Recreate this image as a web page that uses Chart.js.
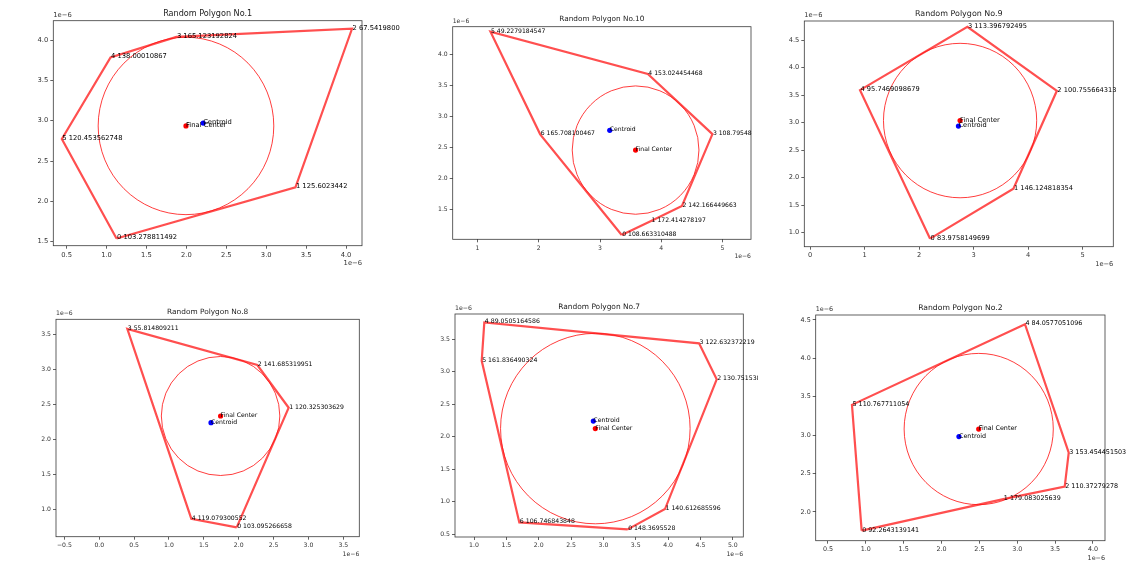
<!DOCTYPE html>
<html>
<head>
<meta charset="utf-8">
<script src="https://cdn.jsdelivr.net/npm/chart.js@4.4.0/dist/chart.umd.min.js"></script>
<style>
html, body { margin: 0; padding: 0; background: #fff; }
#wrap { position: relative; width: 1131px; height: 565px; overflow: hidden; }
.panel { position: absolute; }
</style>
</head>
<body>
<div id="wrap"></div>
<script>
// all coordinates are in units of 1e-6 (the axes offset text)

// Random Polygon No.1
var p1Title = 'Random Polygon No.1';
var p1X = [1.125, 3.366, 4.075, 1.875, 1.05, 0.44];
var p1Y = [1.54, 2.174, 4.14, 4.04, 3.785, 2.773];
var p1Vals = ['103.278811492', '125.6023442', '67.5419800', '165.123192824', '138.00010867', '120.453562748'];
var p1Centroid = [2.21, 2.97];
var p1Center = [1.995, 2.935];
var p1Radius = 1.10;
var p1TicksX = [0.5, 1.0, 1.5, 2.0, 2.5, 3.0, 3.5, 4.0];
var p1TicksY = [1.5, 2.0, 2.5, 3.0, 3.5, 4.0];
var p1RangeX = [0.333, 4.2];
var p1RangeY = [1.45, 4.24];

// Random Polygon No.10
var p2Title = 'Random Polygon No.10';
var p2X = [3.354, 3.834, 4.338, 4.836, 3.781, 1.211, 2.023];
var p2Y = [1.092, 1.318, 1.56, 2.72, 3.689, 4.371, 2.716];
var p2Vals = ['108.663310488', '172.414278197', '142.166449663', '108.79548', '153.024454468', '49.2279184547', '165.708100467'];
var p2Centroid = [3.159, 2.78];
var p2Center = [3.581, 2.462];
var p2Radius = 1.035;
var p2TicksX = [1, 2, 3, 4, 5];
var p2TicksY = [1.5, 2.0, 2.5, 3.0, 3.5, 4.0];
var p2RangeX = [0.594, 5.466];
var p2RangeY = [1.023, 4.452];

// Random Polygon No.9
var p3Title = 'Random Polygon No.9';
var p3X = [2.202, 3.73, 4.527, 2.886, 0.917];
var p3Y = [0.891, 1.8, 3.582, 4.745, 3.594];
var p3Vals = ['83.9758149699', '146.124818354', '100.755664313', '113.396792495', '95.7469098679'];
var p3Centroid = [2.722, 2.94];
var p3Center = [2.752, 3.04];
var p3Radius = 1.405;
var p3TicksX = [0, 1, 2, 3, 4, 5];
var p3TicksY = [1.0, 1.5, 2.0, 2.5, 3.0, 3.5, 4.0, 4.5];
var p3RangeX = [-0.105, 5.562];
var p3RangeY = [0.745, 4.851];

// Random Polygon No.8
var p4Title = 'Random Polygon No.8';
var p4X = [1.971, 2.717, 2.267, 0.402, 1.32];
var p4Y = [0.743, 2.451, 3.061, 3.576, 0.866];
var p4Vals = ['103.095266658', '120.325303629', '141.685319951', '55.814809211', '119.079300552'];
var p4Centroid = [1.603, 2.237];
var p4Center = [1.74, 2.333];
var p4Radius = 0.85;
var p4TicksX = [-0.5, 0.0, 0.5, 1.0, 1.5, 2.0, 2.5, 3.0, 3.5];
var p4TicksY = [1.0, 1.5, 2.0, 2.5, 3.0, 3.5];
var p4RangeX = [-0.621, 3.73];
var p4RangeY = [0.609, 3.714];

// Random Polygon No.7
var p5Title = 'Random Polygon No.7';
var p5X = [3.375, 3.952, 4.751, 4.478, 1.159, 1.119, 1.7];
var p5Y = [0.575, 0.888, 2.883, 3.437, 3.76, 3.169, 0.683];
var p5Vals = ['148.3695528', '140.612685596', '130.751538754', '122.632372219', '89.0505164586', '161.836490324', '106.746843848'];
var p5Centroid = [2.844, 2.241];
var p5Center = [2.875, 2.126];
var p5Radius = 1.465;
var p5TicksX = [1.0, 1.5, 2.0, 2.5, 3.0, 3.5, 4.0, 4.5, 5.0];
var p5TicksY = [0.5, 1.0, 1.5, 2.0, 2.5, 3.0, 3.5];
var p5RangeX = [0.706, 5.162];
var p5RangeY = [0.458, 3.889];

// Random Polygon No.2
var p6Title = 'Random Polygon No.2';
var p6X = [0.945, 2.816, 3.627, 3.68, 3.102, 0.817];
var p6Y = [1.758, 2.167, 2.331, 2.773, 4.445, 3.395];
var p6Vals = ['92.2643139141', '179.083025639', '110.37279278', '153.454451503', '84.0577051096', '110.767711054'];
var p6Centroid = [2.23, 2.982];
var p6Center = [2.491, 3.08];
var p6Radius = 0.985;
var p6TicksX = [0.5, 1.0, 1.5, 2.0, 2.5, 3.0, 3.5, 4.0];
var p6TicksY = [2.0, 2.5, 3.0, 3.5, 4.0, 4.5];
var p6RangeX = [0.338, 4.159];
var p6RangeY = [1.626, 4.565];

var offsetText = '1e\u22126';

var polygons = [
    {title: p1Title, xs: p1X, ys: p1Y, vals: p1Vals, centroid: p1Centroid, center: p1Center, r: p1Radius, tx: p1TicksX, ty: p1TicksY, rx: p1RangeX, ry: p1RangeY},
    {title: p2Title, xs: p2X, ys: p2Y, vals: p2Vals, centroid: p2Centroid, center: p2Center, r: p2Radius, tx: p2TicksX, ty: p2TicksY, rx: p2RangeX, ry: p2RangeY},
    {title: p3Title, xs: p3X, ys: p3Y, vals: p3Vals, centroid: p3Centroid, center: p3Center, r: p3Radius, tx: p3TicksX, ty: p3TicksY, rx: p3RangeX, ry: p3RangeY},
    {title: p4Title, xs: p4X, ys: p4Y, vals: p4Vals, centroid: p4Centroid, center: p4Center, r: p4Radius, tx: p4TicksX, ty: p4TicksY, rx: p4RangeX, ry: p4RangeY},
    {title: p5Title, xs: p5X, ys: p5Y, vals: p5Vals, centroid: p5Centroid, center: p5Center, r: p5Radius, tx: p5TicksX, ty: p5TicksY, rx: p5RangeX, ry: p5RangeY},
    {title: p6Title, xs: p6X, ys: p6Y, vals: p6Vals, centroid: p6Centroid, center: p6Center, r: p6Radius, tx: p6TicksX, ty: p6TicksY, rx: p6RangeX, ry: p6RangeY}
];

// panel placement: canvas box, axes box (L, T, R, B inside the canvas), text size
var panels = [
    {left: 0,   top: 0,   w: 402, h: 282, L: 53.3, T: 20.7, R: 362,   B: 245.7, fs: 6.75},
    {left: 395, top: 0,   w: 360, h: 282, L: 57.7, T: 26.7, R: 357.7, B: 239.3, fs: 6.1},
    {left: 770, top: 0,   w: 361, h: 282, L: 34.3, T: 21,   R: 343.3, B: 246.7, fs: 6.65},
    {left: 0,   top: 290, w: 377, h: 275, L: 56,   T: 29.3, R: 359.3, B: 246.7, fs: 6.15},
    {left: 400, top: 290, w: 358, h: 275, L: 55,   T: 24,   R: 343.3, B: 247,   fs: 6.2},
    {left: 770, top: 290, w: 361, h: 275, L: 45.7, T: 25,   R: 335,   B: 250.7, fs: 6.4}
];

var FONT = '"DejaVu Sans", sans-serif';
var AXIS_COLOR = '#3a3a3a';

function fmtTick(ticks) {
    var whole = ticks.every(function(t) { return Math.abs(t - Math.round(t)) < 1e-9; });
    return function(v) {
        var s = whole ? v.toFixed(0) : v.toFixed(1);
        return s.replace('-', '\u2212');
    };
}

var polyDecor = {
    id: 'polyDecor',
    beforeDatasetsDraw: function(chart) {
        var p = chart.options.plugins.polyDecor.poly;
        var xs = chart.scales.x, ys = chart.scales.y, a = chart.chartArea;
        var ctx = chart.ctx;
        var cx = xs.getPixelForValue(p.center[0]);
        var cy = ys.getPixelForValue(p.center[1]);
        var rx = Math.abs(xs.getPixelForValue(p.center[0] + p.r) - cx);
        var ry = Math.abs(ys.getPixelForValue(p.center[1] + p.r) - cy);
        ctx.save();
        ctx.beginPath();
        ctx.rect(a.left, a.top, a.right - a.left, a.bottom - a.top);
        ctx.clip();
        ctx.beginPath();
        ctx.ellipse(cx, cy, rx, ry, 0, 0, Math.PI * 2);
        ctx.strokeStyle = 'rgba(255, 0, 0, 0.85)';
        ctx.lineWidth = 0.9;
        ctx.stroke();
        ctx.restore();
    },
    afterDraw: function(chart) {
        var opts = chart.options.plugins.polyDecor;
        var p = opts.poly, fs = opts.fs;
        var xs = chart.scales.x, ys = chart.scales.y, a = chart.chartArea;
        var ctx = chart.ctx;
        ctx.save();
        // axes frame
        ctx.strokeStyle = AXIS_COLOR;
        ctx.lineWidth = 0.8;
        ctx.strokeRect(a.left, a.top, a.right - a.left, a.bottom - a.top);

        // vertex labels
        ctx.fillStyle = '#000';
        ctx.font = fs + 'px ' + FONT;
        ctx.textAlign = 'left';
        ctx.textBaseline = 'alphabetic';
        for (var i = 0; i < p.xs.length; i++) {
            ctx.fillText(i + ' ' + p.vals[i], xs.getPixelForValue(p.xs[i]) + 0.5, ys.getPixelForValue(p.ys[i]) + 1);
        }
        ctx.fillText('Centroid', xs.getPixelForValue(p.centroid[0]), ys.getPixelForValue(p.centroid[1]) + 1);
        ctx.fillText('Final Center', xs.getPixelForValue(p.center[0]), ys.getPixelForValue(p.center[1]) + 1);

        // offset texts
        ctx.fillStyle = '#333';
        ctx.textBaseline = 'middle';
        ctx.fillText(offsetText, a.left, a.top - 5.5);
        ctx.textAlign = 'right';
        ctx.fillText(offsetText, a.right, a.bottom + 17.6);

        // title
        ctx.fillStyle = '#222';
        ctx.font = (fs * 1.2) + 'px ' + FONT;
        ctx.textAlign = 'center';
        ctx.fillText(p.title, (a.left + a.right) / 2, a.top - 7.2);
        ctx.restore();
    }
};

function makeAxis(ticks, range, fs, fit) {
    return {
        type: 'linear',
        min: range[0],
        max: range[1],
        afterBuildTicks: function(s) {
            s.ticks = ticks.map(function(v) { return {value: v}; });
        },
        afterFit: fit,
        grid: {drawOnChartArea: false, drawTicks: true, tickLength: 3, color: AXIS_COLOR, lineWidth: 0.8},
        border: {display: false},
        ticks: {
            font: {family: FONT, size: fs},
            color: '#333',
            padding: 2,
            maxRotation: 0,
            autoSkip: false,
            callback: fmtTick(ticks)
        }
    };
}

var wrap = document.getElementById('wrap');
polygons.forEach(function(poly, k) {
    var pn = panels[k];
    var div = document.createElement('div');
    div.className = 'panel';
    div.style.left = pn.left + 'px';
    div.style.top = pn.top + 'px';
    div.style.width = pn.w + 'px';
    div.style.height = pn.h + 'px';
    var canvas = document.createElement('canvas');
    canvas.width = pn.w;
    canvas.height = pn.h;
    div.appendChild(canvas);
    wrap.appendChild(div);

    var outline = poly.xs.map(function(x, i) { return {x: x, y: poly.ys[i]}; });
    outline.push({x: poly.xs[0], y: poly.ys[0]});

    new Chart(canvas.getContext('2d'), {
        type: 'scatter',
        data: {
            datasets: [
                {
                    label: 'polygon',
                    data: outline,
                    showLine: true,
                    fill: false,
                    tension: 0,
                    borderColor: 'rgba(255, 20, 20, 0.75)',
                    borderWidth: 2.2,
                    pointRadius: 0
                },
                {
                    label: 'Centroid',
                    data: [{x: poly.centroid[0], y: poly.centroid[1]}],
                    pointRadius: 2.6,
                    backgroundColor: '#0000ff',
                    borderWidth: 0
                },
                {
                    label: 'Final Center',
                    data: [{x: poly.center[0], y: poly.center[1]}],
                    pointRadius: 2.6,
                    backgroundColor: '#ff0000',
                    borderWidth: 0
                }
            ]
        },
        options: {
            responsive: false,
            animation: false,
            layout: {padding: {left: 0, top: pn.T, right: pn.w - pn.R, bottom: 0}},
            scales: {
                x: makeAxis(poly.tx, poly.rx, pn.fs, function(s) { s.height = pn.h - pn.B; }),
                y: makeAxis(poly.ty, poly.ry, pn.fs, function(s) { s.width = pn.L; })
            },
            plugins: {
                legend: {display: false},
                tooltip: {enabled: false},
                polyDecor: {poly: poly, fs: pn.fs}
            }
        },
        plugins: [polyDecor]
    });
});
</script>
</body>
</html>
